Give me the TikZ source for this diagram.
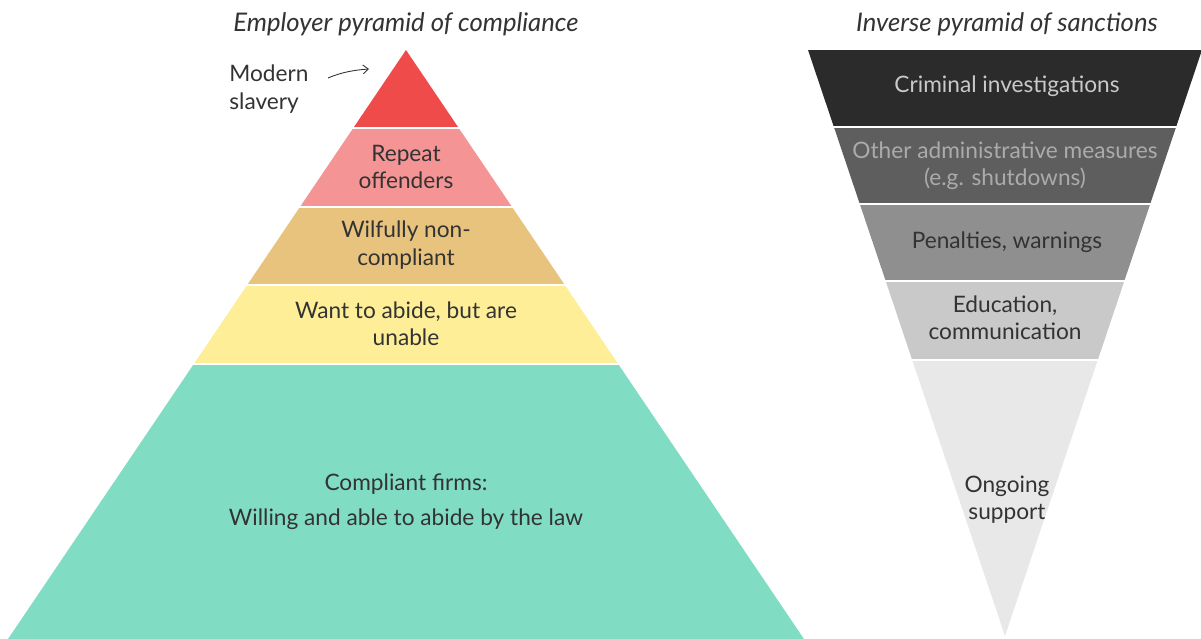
\documentclass[tikz,border=0pt]{standalone}
\usepackage{fontspec}
\setmainfont{Lato}
\usetikzlibrary{arrows.meta}
\definecolor{cRed}{HTML}{EF4B4B}
\definecolor{cPink}{HTML}{F49494}
\definecolor{cTan}{HTML}{E8C37E}
\definecolor{cYel}{HTML}{FEEE98}
\definecolor{cGreen}{HTML}{80DDC3}
\definecolor{gA}{HTML}{2B2B2B}
\definecolor{gB}{HTML}{5E5E5E}
\definecolor{gC}{HTML}{8F8F8F}
\definecolor{gD}{HTML}{C9C9C9}
\definecolor{gE}{HTML}{E8E8E8}
\definecolor{txt}{HTML}{333333}
\tikzset{
  lbl/.style={align=center, text=txt, font=\fontsize{12.9}{15.5}\selectfont, inner sep=0pt},
  ttl/.style={text=txt, font=\fontsize{14.6}{17}\selectfont\itshape, inner sep=0pt},
  gap/.style={white, line width=0.035cm},
}
\begin{document}
\begin{tikzpicture}[x=0.02cm, y=-0.02cm]
\useasboundingbox (0,0) rectangle (1201,639);
% left pyramid
\fill[cRed] (406,50) -- (458.7,128) -- (353.3,128) -- cycle;
\fill[cPink] (353.3,128) -- (458.7,128) -- (512.1,207) -- (299.9,207) -- cycle;
\fill[cTan] (299.9,207) -- (512.1,207) -- (564.8,285) -- (247.2,285) -- cycle;
\fill[cYel] (247.2,285) -- (564.8,285) -- (618.2,364) -- (193.8,364) -- cycle;
\fill[cGreen] (193.8,364) -- (618.2,364) -- (804,639) -- (8,639) -- cycle;
\foreach \y in {128,207,285,364} \draw[gap] (150,\y) -- (660,\y);
% right inverse pyramid
\fill[gA] (808,50) -- (1202,50) -- (1176.1,127) -- (833.9,127) -- cycle;
\fill[gB] (833.9,127) -- (1176.1,127) -- (1150.2,204) -- (859.8,204) -- cycle;
\fill[gC] (859.8,204) -- (1150.2,204) -- (1124.3,281) -- (885.7,281) -- cycle;
\fill[gD] (885.7,281) -- (1124.3,281) -- (1097.8,360) -- (912.2,360) -- cycle;
\fill[gE] (912.2,360) -- (1097.8,360) -- (1005,636) -- cycle;
\foreach \y in {127,204,281,360} \draw[gap] (800,\y) -- (1201,\y);
% titles
\node[ttl] (t1) at (406,24) {Employer pyramid of compliance};
\node[ttl] (t2) at (1007,24) {Inverse pyramid of sanctions};
% left labels
\node[lbl, align=left, anchor=west] (ms) at (229,89) {Modern\\slavery};
\coordinate (arrS) at (328,78);
\coordinate (arrE) at (369,69);
\draw[txt, line width=0.5pt, -{Straight Barb[length=3pt,width=5pt]}] (arrS) .. controls (342,72) and (355,70) .. (arrE);
\node[lbl] (l2) at (406,167) {Repeat\\offenders};
\node[lbl] (l3) at (406,245) {Wilfully non-\\compliant};
\node[lbl] (l4) at (406,324) {Want to abide, but are\\unable};
\node[lbl, font=\fontsize{12.9}{20}\selectfont] (l5) at (406,502) {Compliant firms:\\Willing and able to abide by the law};
% right labels
\node[lbl, text=gD] (r1) at (1007,86) {Criminal investigations};
\node[lbl, text=gD!85!black] (r2) at (1005,166) {Other administrative measures\\(e.g. shutdowns)};
\node[lbl] (r3) at (1007,242) {Penalties, warnings};
\node[lbl] (r4) at (1005,318) {Education,\\communication};
\node[lbl] (r5) at (1007,500) {Ongoing\\support};
\end{tikzpicture}
\end{document}
